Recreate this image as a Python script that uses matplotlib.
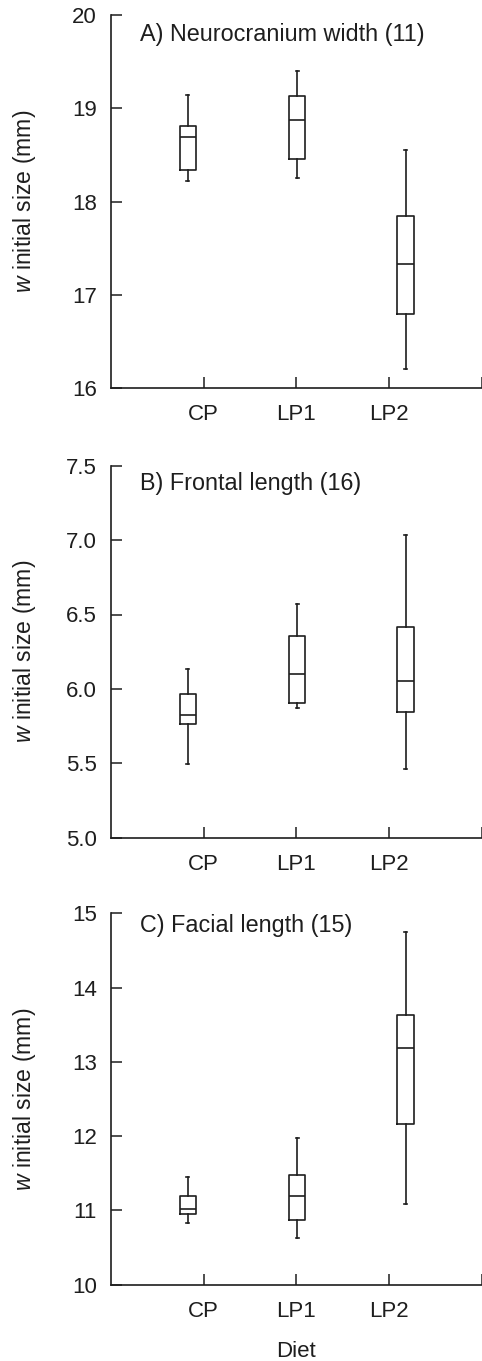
import matplotlib
matplotlib.use("Agg")
import matplotlib.pyplot as plt

plt.rcParams['font.family'] = ['Liberation Sans', 'DejaVu Sans']
plt.rcParams['mathtext.fontset'] = 'custom'
plt.rcParams['mathtext.it'] = 'Liberation Sans:italic'
plt.rcParams['mathtext.rm'] = 'Liberation Sans'

# ---------------- data ----------------
diets = ["CP", "LP1", "LP2"]
panel_titles = ["A) Neurocranium width (11)", "B) Frontal length (16)", "C) Facial length (15)"]

# Panel A
a_whislo = [18.22, 18.25, 16.20]
a_q1     = [18.34, 18.46, 16.79]
a_med    = [18.69, 18.87, 17.33]
a_q3     = [18.81, 19.13, 17.84]
a_whishi = [19.14, 19.40, 18.55]

# Panel B
b_whislo = [5.495, 5.874, 5.464]
b_q1     = [5.766, 5.903, 5.845]
b_med    = [5.825, 6.098, 6.055]
b_q3     = [5.964, 6.355, 6.416]
b_whishi = [6.136, 6.569, 7.034]

# Panel C
c_whislo = [10.83, 10.625, 11.09]
c_q1     = [10.956, 10.87, 12.16]
c_med    = [11.015, 11.20, 13.18]
c_q3     = [11.19, 11.48, 13.63]
c_whishi = [11.45, 11.975, 14.75]

a_yticks = [16, 17, 18, 19, 20]
b_yticks = [5.0, 5.5, 6.0, 6.5, 7.0, 7.5]
c_yticks = [10, 11, 12, 13, 14, 15]
a_yticklabels = ["16", "17", "18", "19", "20"]
b_yticklabels = ["5.0", "5.5", "6.0", "6.5", "7.0", "7.5"]
c_yticklabels = ["10", "11", "12", "13", "14", "15"]

ylabel = r"$\it{w}$ initial size (mm)"
xlabel = "Diet"

# ---------------- layout ----------------
W, H = 482, 1361
fig = plt.figure(figsize=(W / 100, H / 100), dpi=100)
ink = "#1e1e1e"

left_px, right_px = 111, 481.5
panels_px = [(15, 388), (465.7, 837.7), (913.3, 1284.7)]
title_off_pt = [5.5, 4.5, 0.2]
box_positions = [0.83, 2.01, 3.18]
box_width = 0.175

datasets = [
    (a_whislo, a_q1, a_med, a_q3, a_whishi, a_yticks, a_yticklabels),
    (b_whislo, b_q1, b_med, b_q3, b_whishi, b_yticks, b_yticklabels),
    (c_whislo, c_q1, c_med, c_q3, c_whishi, c_yticks, c_yticklabels),
]

for i, ((top, bot), data) in enumerate(zip(panels_px, datasets)):
    wl, q1, med, q3, wh, yt, ytl = data
    ax = fig.add_axes([left_px / W, (H - bot) / H, (right_px - left_px) / W, (bot - top) / H])
    stats = [dict(whislo=wl[k], q1=q1[k], med=med[k], q3=q3[k], whishi=wh[k], fliers=[])
             for k in range(len(diets))]
    lw = 1.2
    ax.bxp(stats, positions=box_positions, widths=box_width, showfliers=False,
           capwidths=0.03,
           boxprops=dict(color=ink, linewidth=lw),
           whiskerprops=dict(color=ink, linewidth=lw),
           capprops=dict(color=ink, linewidth=lw),
           medianprops=dict(color=ink, linewidth=lw),
           manage_ticks=False)
    ax.set_xlim(0, 4)
    ax.set_ylim(yt[0], yt[-1])
    ax.set_yticks(yt)
    ax.set_yticklabels(ytl)
    ax.set_xticks([1, 2, 3, 4])
    ax.set_xticklabels(diets + [""])
    for s in ["top", "right"]:
        ax.spines[s].set_visible(False)
    for s in ["left", "bottom"]:
        ax.spines[s].set_linewidth(1.2)
        ax.spines[s].set_color(ink)
    ax.tick_params(axis="both", direction="in", length=8, width=1.1, color=ink,
                   labelsize=16, labelcolor=ink)
    ax.tick_params(axis="y", pad=10)
    ax.tick_params(axis="x", pad=11.5)
    ax.set_ylabel(ylabel, fontsize=16.6, color=ink)
    ax.yaxis.set_label_coords(-0.196, 0.5)
    ax.annotate(panel_titles[i], xy=(0.078, 1.0), xycoords="axes fraction",
                xytext=(0, -title_off_pt[i]), textcoords="offset points",
                ha="left", va="top", fontsize=16.8, color=ink)
    ax.patch.set_alpha(0)
    if i == 2:
        ax.set_xlabel(xlabel, fontsize=16, color=ink, labelpad=14)

fig.savefig("out.png", dpi=100)
